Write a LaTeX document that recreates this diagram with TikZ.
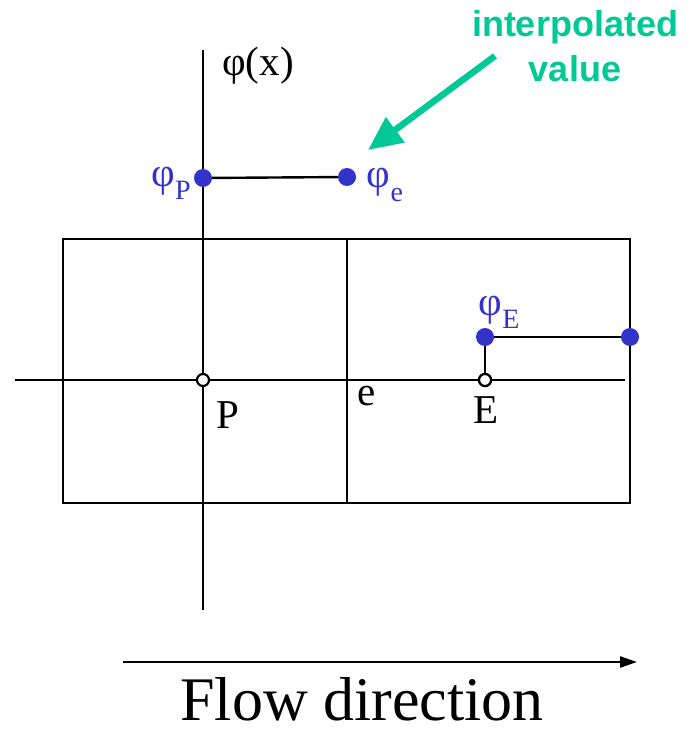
\documentclass[tikz,border=0pt]{standalone}
\usepackage{fontspec}
\setmainfont{Liberation Serif}
\setsansfont{Liberation Sans}
\usetikzlibrary{arrows.meta}
\definecolor{dotblue}{HTML}{3333CC}
\definecolor{mint}{HTML}{00C896}
\newcommand{\mysub}[1]{\raisebox{-0.32em}{\fontsize{28}{28}\selectfont #1}}
\begin{document}
\begin{tikzpicture}[x=1pt,y=-1pt,
  boxline/.style={draw=black,line width=2.6pt},
  axisline/.style={draw=black,line width=2.4pt},
  blueDot/.style={circle,fill=dotblue,inner sep=0pt,minimum size=18pt},
  openDot/.style={circle,draw=black,fill=white,line width=2.2pt,inner sep=0pt,minimum size=12pt},
  lbl/.style={inner sep=0pt,font=\fontsize{41}{48}\selectfont},
  bluelbl/.style={lbl,text=dotblue},
  greenlbl/.style={inner sep=0pt,text=mint,font=\sffamily\bfseries\fontsize{36}{40}\selectfont}]
\useasboundingbox (0,0) rectangle (694,735);
% boxes
\draw[boxline] (63,239) rectangle (347,503);
\draw[boxline] (347,239) rectangle (630,503);
% axes
\coordinate (ytop) at (203,50);
\coordinate (ybot) at (203,610);
\coordinate (xl) at (15,380);
\coordinate (xr) at (625,380);
\draw[axisline] (ytop) -- (ybot);
\draw[axisline] (xl) -- (xr);
% values
\node[blueDot] (phP) at (203,178) {};
\node[blueDot] (phe) at (347,177) {};
\node[blueDot] (phE) at (485,337) {};
\node[blueDot] (phR) at (630,337) {};
\draw[axisline] (phP) -- (phe);
\draw[axisline] (phE) -- (phR);
\node[openDot] (E) at (485,380) {};
\draw[axisline] (phE) -- (E);
\node[openDot] (P) at (203,380) {};
\node[openDot] (E2) at (485,380) {};
% labels
\node[lbl] (phix) at (258,66) {φ(x)};
\node[bluelbl] (lphP) at (171,183) {φ\mysub{P}};
\node[bluelbl] (lphe) at (385,185) {φ\mysub{e}};
\node[bluelbl] (lphE) at (499,312) {φ\mysub{E}};
\node[lbl] (lP) at (228,415) {P};
\node[lbl] (le) at (367,396) {e};
\node[lbl] (lE) at (486,410) {E};
% interpolated value
\node[greenlbl,anchor=base] (t1) at (575,37) {interpolated};
\node[greenlbl,anchor=base] (t2) at (575,82) {value};
\coordinate (gtail) at (495,56);
\coordinate (gtip) at (368,150);
\draw[mint,line width=6.5pt,-{Triangle[length=34pt,width=30pt]}] (gtail) -- (gtip);
% flow direction
\coordinate (fl) at (123,662);
\coordinate (fr) at (637,662);
\draw[black,line width=2.6pt,-{Triangle[length=17pt,width=11pt]}] (fl) -- (fr);
\node[inner sep=0pt,anchor=base,font=\fontsize{62}{68}\selectfont] (flow) at (362,720) {Flow direction};
\end{tikzpicture}
\end{document}
